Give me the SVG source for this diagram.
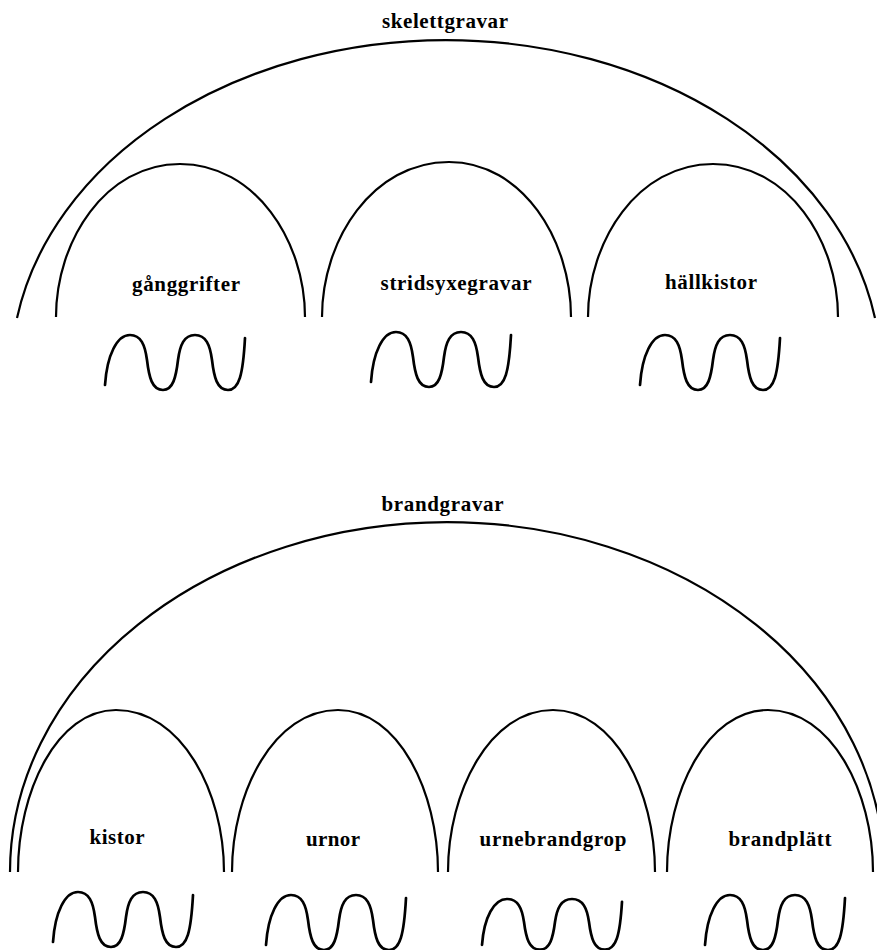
<svg xmlns="http://www.w3.org/2000/svg" xmlns:xlink="http://www.w3.org/1999/xlink" width="877" height="950" viewBox="0 0 877 950">
<style>
.bg{fill:#ffffff}
.arc{fill:none;stroke:#000;stroke-width:2.2;stroke-linecap:butt}
.wave{fill:none;stroke:#000;stroke-width:2.7;stroke-linecap:round;stroke-linejoin:round}
.lbl{font-family:"Liberation Serif","Times New Roman",serif;font-weight:bold;font-size:21px;fill:#000;text-anchor:middle}
</style>
<defs>
<path id="w" d="M0,0 C2,-30 12,-50 25,-50 C36,-50 40,-40 42,-25 C44,-8 47,5 58,5 C68,5 71,-8 73,-25 C75,-40 79,-50 90,-50 C101,-50 105,-40 107,-25 C109,-8 112,5 123,5 C134,5 138,-10 140,-47"/>
</defs>
<rect class="bg" x="0" y="0" width="877" height="950"/>

<g id="skelettgravar">
<path class="arc" d="M17,318 A435,333 0 0 1 875,318"/>
<text class="lbl" x="445" y="28" textLength="126">skelettgravar</text>
</g>
<g id="ganggrifter">
<path class="arc" d="M56,317 C56,240.5 105.6,164 180,164 C255,164 305,240.5 305,317"/>
<text class="lbl" x="186" y="291" textLength="108">gånggrifter</text>
<use class="wave" href="#w" xlink:href="#w" transform="translate(105,385)"/>
</g>
<g id="stridsyxegravar">
<path class="arc" d="M322,317 C322,239.5 372.8,162 449,162 C522.2,162 571,239.5 571,317"/>
<text class="lbl" x="456" y="290" textLength="151">stridsyxegravar</text>
<use class="wave" href="#w" xlink:href="#w" transform="translate(371,382)"/>
</g>
<g id="hallkistor">
<path class="arc" d="M588,317 C588,240.5 638,164 713,164 C788,164 838,240.5 838,317"/>
<text class="lbl" x="711" y="289" textLength="92">hällkistor</text>
<use class="wave" href="#w" xlink:href="#w" transform="translate(640,385)"/>
</g>

<g id="brandgravar">
<path class="arc" d="M10,872 A437,350 0 0 1 884,872"/>
<text class="lbl" x="442.5" y="511" textLength="122">brandgravar</text>
</g>
<g id="kistor">
<path class="arc" d="M18,872 C18,791 57.2,710 116,710 C180.8,710 224,791 224,872"/>
<text class="lbl" x="117" y="844" textLength="55">kistor</text>
<use class="wave" href="#w" xlink:href="#w" transform="translate(53,942)"/>
</g>
<g id="urnor">
<path class="arc" d="M232,872 C232,791 274.4,710 338,710 C398,710 438,791 438,872"/>
<text class="lbl" x="333" y="846" textLength="54">urnor</text>
<use class="wave" href="#w" xlink:href="#w" transform="translate(266,945)"/>
</g>
<g id="urnebrandgrop">
<path class="arc" d="M448,872 C448,791 490,710 553,710 C614.2,710 655,791 655,872"/>
<text class="lbl" x="553" y="846" textLength="147">urnebrandgrop</text>
<use class="wave" href="#w" xlink:href="#w" transform="translate(482,945) scale(1,0.92)"/>
</g>
<g id="brandplatt">
<path class="arc" d="M667,872 C667,791 707.4,710 768,710 C831,710 873,791 873,872"/>
<text class="lbl" x="780" y="846" textLength="103">brandplätt</text>
<use class="wave" href="#w" xlink:href="#w" transform="translate(705,945)"/>
</g>
<g id="connectors"/>
</svg>
